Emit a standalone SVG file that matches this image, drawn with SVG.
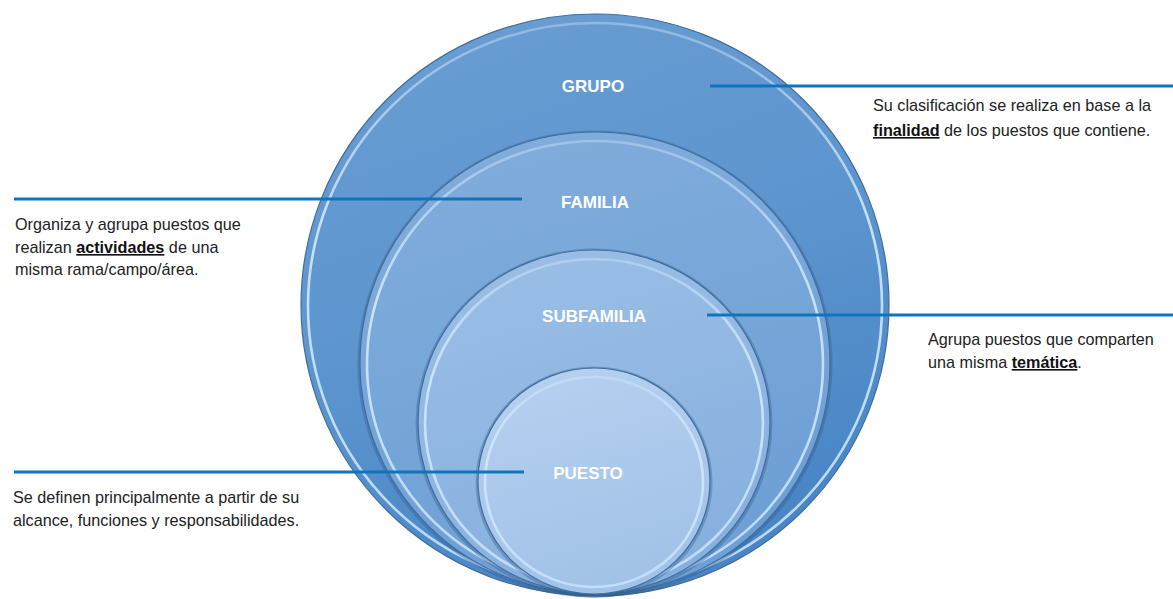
<svg xmlns="http://www.w3.org/2000/svg" width="1173" height="599" viewBox="0 0 1173 599">
  <defs>
    <linearGradient id="gGrupo" x1="0" y1="0" x2="0.35" y2="1">
      <stop offset="0" stop-color="#6b9ed3"/>
      <stop offset="0.55" stop-color="#5d95ce"/>
      <stop offset="1" stop-color="#4a86c6"/>
    </linearGradient>
    <linearGradient id="gFamilia" x1="0" y1="0" x2="0.3" y2="1">
      <stop offset="0" stop-color="#82aedc"/>
      <stop offset="1" stop-color="#6e9fd5"/>
    </linearGradient>
    <linearGradient id="gSub" x1="0" y1="0" x2="0.3" y2="1">
      <stop offset="0" stop-color="#9bbfe6"/>
      <stop offset="1" stop-color="#88b0df"/>
    </linearGradient>
    <linearGradient id="gPuesto" x1="0" y1="0" x2="0.3" y2="1">
      <stop offset="0" stop-color="#b6d2f1"/>
      <stop offset="1" stop-color="#a3c2e8"/>
    </linearGradient>
    <linearGradient id="gRim" x1="0" y1="0" x2="0" y2="1">
      <stop offset="0" stop-color="#d8ecff" stop-opacity="0.35"/>
      <stop offset="0.35" stop-color="#d0e9ff" stop-opacity="0.9"/>
      <stop offset="1" stop-color="#c4e2ff" stop-opacity="0.9"/>
    </linearGradient>
  </defs>
  <style>
    .disc { stroke: #3f6e9c; stroke-width: 1.2; }
    .shade { fill: none; stroke: #2f5a86; stroke-opacity: 0.35; stroke-width: 3; }
    .rim { fill: none; stroke: url(#gRim); stroke-width: 2.6; }
    .label { font-family: "Liberation Sans", Arial, sans-serif; font-weight: bold; font-size: 17px; fill: #ffffff; text-anchor: middle; }
    .desc { font-family: "Liberation Sans", Arial, sans-serif; font-size: 16.2px; fill: #222222; }
    .em { font-weight: bold; text-decoration: underline; fill: #111111; }
    .conn { stroke: #0f75bb; stroke-width: 3; fill: none; }
  </style>

  <g id="node-grupo">
    <ellipse class="disc" cx="595" cy="305" rx="294" ry="291" fill="url(#gGrupo)"/>
    <ellipse class="rim" cx="595" cy="306" rx="287" ry="283"/>
  </g>
  <g id="node-familia">
    <ellipse class="shade" cx="595" cy="364" rx="236" ry="232"/>
    <ellipse class="disc" cx="595" cy="363" rx="235" ry="231" fill="url(#gFamilia)"/>
    <ellipse class="rim" cx="595" cy="364" rx="228" ry="223"/>
  </g>
  <g id="node-subfamilia">
    <ellipse class="shade" cx="594" cy="423" rx="177" ry="173"/>
    <ellipse class="disc" cx="594" cy="422" rx="176" ry="172" fill="url(#gSub)"/>
    <ellipse class="rim" cx="594" cy="423" rx="169" ry="164"/>
  </g>
  <g id="node-puesto">
    <ellipse class="shade" cx="594" cy="482" rx="117" ry="114"/>
    <ellipse class="disc" cx="594" cy="481" rx="116" ry="113" fill="url(#gPuesto)"/>
    <ellipse class="rim" cx="594" cy="482" rx="109" ry="105"/>
  </g>

  <g id="connectors">
    <line class="conn" x1="710" y1="86" x2="1173" y2="86"/>
    <line class="conn" x1="14" y1="199" x2="522" y2="199"/>
    <line class="conn" x1="707" y1="315" x2="1173" y2="315"/>
    <line class="conn" x1="14" y1="472" x2="524" y2="472"/>
  </g>

  <g id="labels">
    <text class="label" x="593" y="92">GRUPO</text>
    <text class="label" x="595" y="208">FAMILIA</text>
    <text class="label" x="594" y="322">SUBFAMILIA</text>
    <text class="label" x="588" y="479">PUESTO</text>
  </g>

  <g id="desc-grupo">
    <text class="desc" x="873" y="111">Su clasificación se realiza en base a la</text>
    <text class="desc" x="873" y="136"><tspan class="em">finalidad</tspan> de los puestos que contiene.</text>
  </g>
  <g id="desc-familia">
    <text class="desc" x="15" y="230">Organiza y agrupa puestos que</text>
    <text class="desc" x="15" y="253">realizan <tspan class="em">actividades</tspan> de una</text>
    <text class="desc" x="15" y="275">misma rama/campo/área.</text>
  </g>
  <g id="desc-subfamilia">
    <text class="desc" x="928" y="345">Agrupa puestos que comparten</text>
    <text class="desc" x="928" y="368">una misma <tspan class="em">temática</tspan>.</text>
  </g>
  <g id="desc-puesto">
    <text class="desc" x="13" y="503">Se definen principalmente a partir de su</text>
    <text class="desc" x="13" y="526">alcance, funciones y responsabilidades.</text>
  </g>
</svg>
